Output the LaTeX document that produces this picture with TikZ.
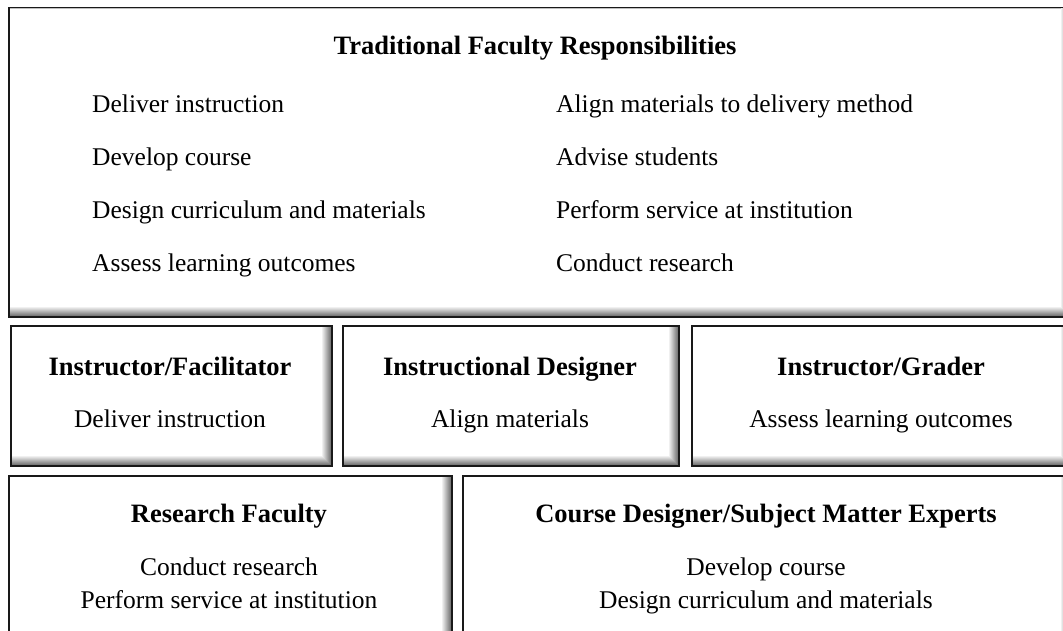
\documentclass[tikz,border=0pt]{standalone}
\usepackage{fontspec}
\setmainfont{Liberation Serif}
\usetikzlibrary{calc}

\begin{document}
\begin{tikzpicture}[x=1pt,y=-1pt,
    panel/.style={draw=black!90,line width=1.5pt,fill=white,anchor=north west,
      inner sep=0pt,
      path picture={
        % bevel: grey steps along the lower and right edges
        \foreach \k in {0,...,9}{
          \pgfmathsetmacro\tone{58-5.8*\k}
          \pgfmathsetmacro\off{\k+0.5}
          \draw[black!\tone,line width=1.05pt]
            ($(path picture bounding box.south west)+(0,-\off)$) --
            ($(path picture bounding box.south east)+(-\k,-\off)$);
          \draw[black!\tone,line width=1.05pt]
            ($(path picture bounding box.south east)+(-\off,-\k)$) --
            ($(path picture bounding box.north east)+(-\off,0)$);
        }
        \draw[black!25,line width=1pt]
          ($(path picture bounding box.south west)+(1,-10)$) --
          ($(path picture bounding box.north west)+(1,1)$) --
          ($(path picture bounding box.north east)+(-10,1)$);
      }},
    head/.style={font=\fontsize{26.5}{30}\selectfont\bfseries,anchor=base,inner sep=0pt},
    item/.style={font=\fontsize{25.5}{30}\selectfont,anchor=base,inner sep=0pt}
  ]
    \path[use as bounding box,clip] (0,0) rectangle (1063,631);

    % top panel with the full list of duties
    \node[panel,minimum width=1062pt,minimum height=309pt] (trad) at (8,7) {};
    \node[head] (tradtitle) at (535,55) {Traditional Faculty Responsibilities};
    \foreach \i/\y/\txt in {1/113/Deliver instruction,2/166/Develop course,
        3/219/Design curriculum and materials,4/272/Assess learning outcomes}
      \node[item,anchor=base west] (left\i) at (92,\y) {\txt};
    \foreach \i/\y/\txt in {1/113/Align materials to delivery method,2/166/Advise students,
        3/219/Perform service at institution,4/272/Conduct research}
      \node[item,anchor=base west] (right\i) at (556,\y) {\txt};

    % middle row
    \node[panel,minimum width=321pt,minimum height=140pt] (facil) at (10,325) {};
    \node[panel,minimum width=336pt,minimum height=140pt] (design) at (342,325) {};
    \node[panel,minimum width=379pt,minimum height=140pt] (grader) at (691,325) {};
    \node[head] (faciltitle) at (170,375) {Instructor/Facilitator};
    \node[item] (facildesc) at (170,427) {Deliver instruction};
    \node[head] (designtitle) at (510,375) {Instructional Designer};
    \node[item] (designdesc) at (510,427) {Align materials};
    \node[head] (gradertitle) at (881,375) {Instructor/Grader};
    \node[item] (graderdesc) at (881,427) {Assess learning outcomes};

    % bottom row
    \node[panel,minimum width=443pt,minimum height=180pt] (research) at (8,475) {};
    \node[panel,minimum width=608pt,minimum height=180pt] (course) at (462,475) {};
    \node[head] (researchtitle) at (229,522) {Research Faculty};
    \node[item] (researchone) at (229,575) {Conduct research};
    \node[item] (researchtwo) at (229,608) {Perform service at institution};
    \node[head] (coursetitle) at (766,522) {Course Designer/Subject Matter Experts};
    \node[item] (courseone) at (766,575) {Develop course};
    \node[item] (coursetwo) at (766,608) {Design curriculum and materials};
  \end{tikzpicture}
\end{document}
